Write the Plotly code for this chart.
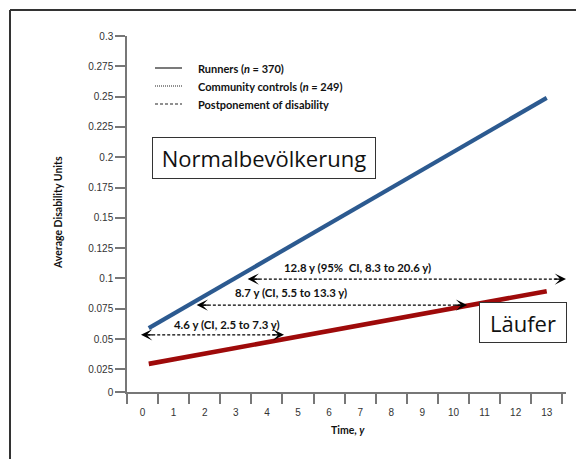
import plotly.graph_objects as go

# ---- axis ticks -------------------------------------------------------------
X_TICKS = list(range(0, 14))
Y_TICKS = [0, 0.025, 0.05, 0.075, 0.1, 0.125, 0.15, 0.175, 0.2, 0.225, 0.25, 0.275, 0.3]
Y_TICK_TEXT = ["0", "0.025", "0.05", "0.075", "0.1", "0.125", "0.15", "0.175",
               "0.2", "0.225", "0.25", "0.275", "0.3"]

# ---- fitted disability trends over follow-up --------------------------------
TREND_X = [0.2, 13.0]
CONTROLS_Y = [0.059, 0.249]     # Normalbevölkerung (community controls)
RUNNERS_Y = [0.0295, 0.0895]    # Läufer (runners)

# ---- postponement of disability ---------------------------------------------
POSTPONE_YEARS = [4.6, 8.7, 12.8]
POSTPONE_LEVEL = [0.0535, 0.078, 0.0995]
POSTPONE_START = [-0.05, 1.74, 3.38]
POSTPONE_LABELS = ["4.6 y (CI, 2.5 to 7.3 y)",
                   "8.7 y (CI, 5.5 to 13.3 y)",
                   "12.8 y (95%  CI, 8.3 to 20.6 y)"]

# ---- geometry ---------------------------------------------------------------
W, H = 576, 459
L, R, T, B = 127, 566, 36, 392          # plot area in pixels
X_RANGE = [-0.5, 13.62]
Y_FLOOR = 0.0063                         # axis is broken below 0.025: origin labelled 0
Y_RANGE = [Y_FLOOR, 0.3]

AXIS_COLOR = "#777777"
BLUE = "#2C5A90"
RED = "#9E0A0A"
LABEL_FONT = "Lato, Liberation Sans, sans-serif"


def px(xp):
    return (xp - L) / (R - L)


def py(yp):
    return (B - yp) / (B - T)


fig = go.Figure()

fig.add_trace(go.Scatter(x=TREND_X, y=CONTROLS_Y, mode="lines",
                         line=dict(color=BLUE, width=4.2), hoverinfo="skip",
                         showlegend=False))
fig.add_trace(go.Scatter(x=TREND_X, y=RUNNERS_Y, mode="lines",
                         line=dict(color=RED, width=4.6), hoverinfo="skip",
                         showlegend=False))

annotations = []
label_pos = [(2.73, 0.0622), (4.76, 0.0886), (6.92, 0.1093)]
head_len = 0.42
for start, yrs, lvl, txt, (lx, ly) in zip(POSTPONE_START, POSTPONE_YEARS,
                                           POSTPONE_LEVEL, POSTPONE_LABELS, label_pos):
    end = min(start + yrs, X_RANGE[1])
    fig.add_trace(go.Scatter(x=[start + 0.2, end - 0.2], y=[lvl, lvl], mode="lines",
                             line=dict(color="black", width=1.3, dash="3px,2px"),
                             hoverinfo="skip", showlegend=False))
    for tip, tail in ((start, start + head_len), (end, end - head_len)):
        annotations.append(dict(x=tip, y=lvl, ax=tail, ay=lvl, xref="x", yref="y",
                                axref="x", ayref="y", text="", showarrow=True,
                                arrowhead=3, arrowsize=1.45, arrowwidth=1.3,
                                arrowcolor="black", standoff=0, startstandoff=0))
    annotations.append(dict(x=lx, y=ly, xref="x", yref="y", text=f"<b>{txt}</b>",
                            showarrow=False, font=dict(family=LABEL_FONT, size=11.4,
                                                       color="#111111")))

# legend block (drawn by hand)
legend_rows = [("<b>Runners (<i>n</i> = 370)</b>", "solid", 68),
               ("<b>Community controls (<i>n</i> = 249)</b>", "dot", 86),
               ("<b>Postponement of disability</b>", "dash", 104)]
shapes = []
for text, dash, yp in legend_rows:
    shapes.append(dict(type="line", xref="paper", yref="paper",
                       x0=px(155), x1=px(182), y0=py(yp), y1=py(yp),
                       line=dict(color="#222222", width=1.2,
                                 dash={"solid": "solid", "dot": "1px,1px",
                                       "dash": "3px,2px"}[dash])))
    annotations.append(dict(x=px(196), y=py(yp), xref="paper", yref="paper",
                            xanchor="left", yanchor="middle", text=text,
                            showarrow=False,
                            font=dict(family=LABEL_FONT, size=11, color="#111111")))

# boxed group labels
for text, cx, cy, bw, bh in (("Normalbevölkerung", 264, 158, 222, 40),
                             ("Läufer", 523, 322.5, 86, 39)):
    annotations.append(dict(x=px(cx), y=py(cy), xref="paper", yref="paper",
                            xanchor="center", yanchor="middle", text=text,
                            showarrow=False, width=bw, height=bh, borderpad=0,
                            bordercolor="#333333", borderwidth=1, bgcolor="white",
                            font=dict(family="Open Sans, sans-serif", size=22,
                                      color="#111111")))

# axis titles
annotations.append(dict(x=px(50), y=py(213), xref="paper", yref="paper",
                        text="<b>Average Disability Units</b>", textangle=-90,
                        showarrow=False,
                        font=dict(family=LABEL_FONT, size=10.5, color="#111111")))
annotations.append(dict(x=px(348), y=py(438), xref="paper", yref="paper",
                        text="<b>Time, <i>y</i></b>", showarrow=False,
                        font=dict(family=LABEL_FONT, size=10.5, color="#111111")))

# outer frame (top and left edges)
shapes.append(dict(type="line", xref="paper", yref="paper", x0=px(10), x1=px(600),
                   y0=py(10), y1=py(10), line=dict(color="#333333", width=2)))
shapes.append(dict(type="line", xref="paper", yref="paper", x0=px(10), x1=px(10),
                   y0=py(10), y1=py(480), line=dict(color="#333333", width=2)))

fig.update_layout(
    width=W, height=H,
    margin=dict(l=L, r=W - R, t=T, b=H - B),
    paper_bgcolor="white", plot_bgcolor="white",
    showlegend=False,
    annotations=annotations,
    shapes=shapes,
    xaxis=dict(range=X_RANGE, tickvals=X_TICKS, ticks="outside", ticklen=10,
               tickcolor="rgba(0,0,0,0)", showline=True, linecolor=AXIS_COLOR,
               linewidth=1.5, showgrid=False, zeroline=False,
               tickfont=dict(family="Liberation Sans, sans-serif", size=10,
                             color="#333333"),
               minor=dict(tick0=-0.5, dtick=1, ticks="outside", ticklen=10,
                          tickcolor=AXIS_COLOR, tickwidth=1.5, showgrid=False)),
    yaxis=dict(range=Y_RANGE, tickvals=[Y_FLOOR] + Y_TICKS[1:], ticktext=Y_TICK_TEXT,
               ticks="outside", ticklen=10, tickcolor=AXIS_COLOR, tickwidth=1.5,
               showline=True, linecolor=AXIS_COLOR, linewidth=1.5,
               showgrid=False, zeroline=False,
               tickfont=dict(family="Liberation Sans, sans-serif", size=10,
                             color="#333333")),
)

fig.write_html("out.html")
